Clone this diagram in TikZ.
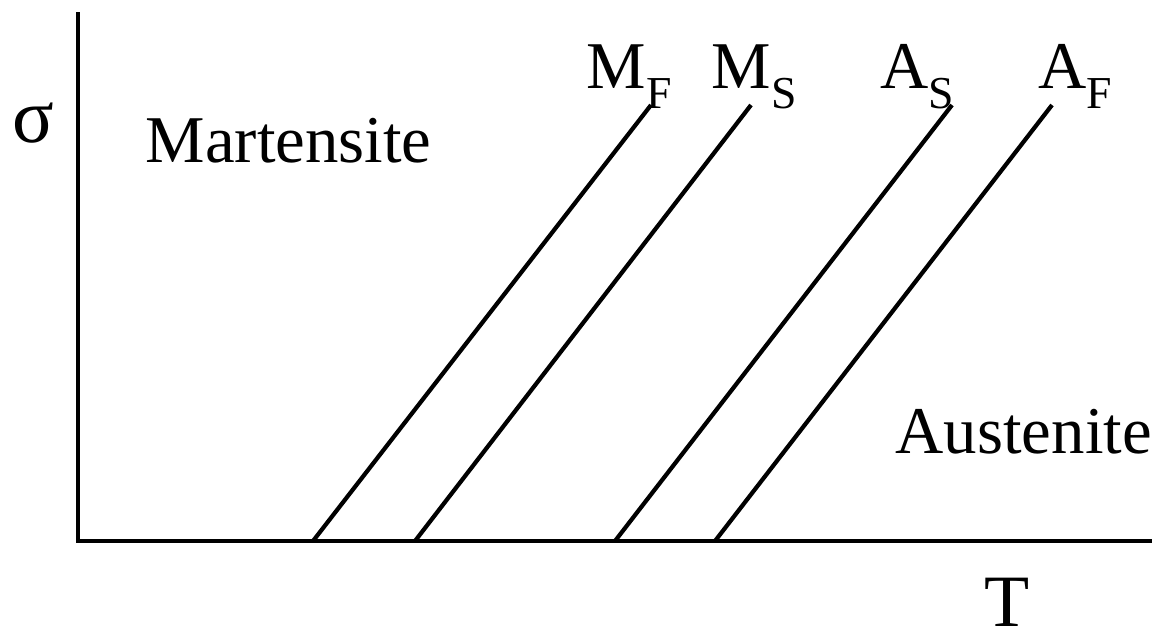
\documentclass[tikz,border=0pt]{standalone}
\usepackage{fontspec}
\setmainfont{Liberation Serif}
\usetikzlibrary{positioning}

\tikzset{
  axisline/.style={line width=1.3pt},
  phaseline/.style={line width=1.2pt},
  biglabel/.style={inner sep=0pt, anchor=base west, font=\fontsize{19}{19}\selectfont},
}
\newcommand{\phaselab}[2]{#1\raisebox{-0.2cm}{\fontsize{13}{13}\selectfont #2}}

\begin{document}
\begin{tikzpicture}[x=0.01cm, y=-0.01cm]
            \useasboundingbox (0,0) rectangle (1161,638);

            % Axes
            \coordinate (origin) at (78,541);
            \coordinate (ytop) at (78,12);
            \coordinate (xend) at (1152,541);
            \draw[axisline] (ytop) -- (origin) -- (xend);

            % Transformation lines
            \coordinate (mf0) at (313,541);
            \coordinate (mf1) at (651,105);
            \coordinate (ms0) at (415,541);
            \coordinate (ms1) at (751,105);
            \coordinate (as0) at (615,541);
            \coordinate (as1) at (952,105);
            \coordinate (af0) at (715,541);
            \coordinate (af1) at (1052,105);
            \draw[phaseline] (mf0) -- (mf1);
            \draw[phaseline] (ms0) -- (ms1);
            \draw[phaseline] (as0) -- (as1);
            \draw[phaseline] (af0) -- (af1);

            % Line labels
            \node[biglabel] (mflab) at (586,88) {\phaselab{M}{F}};
            \node[biglabel] (mslab) at (711,88) {\phaselab{M}{S}};
            \node[biglabel] (aslab) at (880,88) {\phaselab{A}{S}};
            \node[biglabel] (aflab) at (1038,88) {\phaselab{A}{F}};

            % Phases and axis names
            \node[biglabel] (mart) at (145,162) {Martensite};
            \node[biglabel] (aust) at (895,453) {Austenite};
            \node[biglabel, font=\fontsize{21}{21}\selectfont] (tlab) at (984,626) {T};
            \node[biglabel, font=\fontsize{22}{22}\selectfont] (sigma) at (12,142) {σ};
        \end{tikzpicture}
\end{document}
